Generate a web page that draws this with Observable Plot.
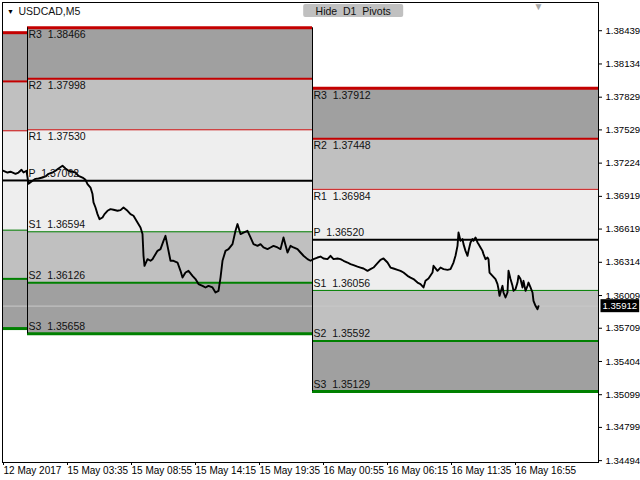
<!DOCTYPE html>
<html>
<head>
<meta charset="utf-8">
<script src="https://cdn.jsdelivr.net/npm/d3@7"></script>
<script src="https://cdn.jsdelivr.net/npm/@observablehq/plot@0.6"></script>
<style>
  html, body { margin: 0; padding: 0; background: #fff; }
  #chart svg { display: block; }
</style>
</head>
<body>
<div id="chart"></div>
<script>
// USDCAD M5 with daily pivot bands (MT4 style)

const symbol = "USDCAD,M5";
const buttonLabel = "Hide  D1  Pivots";

// day ranges in bar index (one M5 bar per pixel)
const dayStart = [0, 25, 310];
const dayEnd = [25, 310, 596];
const dayLabelled = [false, true, true];

const levelNames = ["R3", "R2", "R1", "P", "S1", "S2", "S3"];
const levelsFri = [1.38421, 1.37974, 1.37521, 1.37065, 1.36609, 1.36162, 1.35706];
const levelsMon = [1.38466, 1.37998, 1.37530, 1.37062, 1.36594, 1.36126, 1.35658];
const levelsTue = [1.37912, 1.37448, 1.36984, 1.36520, 1.36056, 1.35592, 1.35129];

const priceTicks = [1.38439, 1.38134, 1.37829, 1.37529, 1.37224, 1.36919, 1.36619,
  1.36314, 1.36009, 1.35709, 1.35404, 1.35099, 1.34799, 1.34494];
const timeTicks = [1, 65, 129, 193, 257, 321, 385, 449, 513];
const timeLabels = ["12 May 2017", "15 May 03:35", "15 May 08:55", "15 May 14:15",
  "15 May 19:35", "16 May 00:55", "16 May 06:15", "16 May 11:35", "16 May 16:55"];

const bars = [1, 5, 8, 13, 16, 19, 21, 24, 26, 30, 33, 36, 40, 43, 46, 50, 53, 56, 60, 63,
  66, 70, 73, 76, 80, 83, 85, 88, 90, 91, 93, 95, 97, 100, 102, 105, 108, 111, 115, 118,
  121, 125, 128, 131, 135, 138, 140, 141, 142, 145, 148, 150, 151, 155, 158, 161, 163, 165, 168, 171,
  175, 178, 180, 183, 186, 190, 193, 196, 200, 203, 206, 210, 213, 216, 218, 220, 223, 226, 230, 233,
  235, 238, 241, 245, 248, 251, 255, 258, 261, 265, 268, 271, 275, 278, 281, 285, 288, 291, 295, 298,
  301, 305, 308, 311, 315, 318, 321, 325, 328, 331, 335, 338, 341, 345, 348, 351, 355, 358, 361, 365,
  368, 371, 375, 378, 381, 385, 388, 391, 395, 398, 401, 405, 408, 411, 415, 418, 421, 423, 426, 430,
  431, 435, 438, 441, 445, 448, 451, 453, 455, 456, 458, 460, 461, 463, 465, 466, 468, 470, 471, 473,
  475, 476, 478, 480, 481, 483, 485, 486, 487, 490, 493, 495, 496, 497, 500, 501, 503, 505, 506, 508,
  510, 511, 513, 515, 516, 518, 520, 521, 523, 525, 526, 528, 530, 531, 533, 535, 536];
const closes = [1.37154, 1.37138, 1.37145, 1.37126, 1.37138, 1.37163, 1.37138, 1.37154, 1.37034, 1.37062,
  1.37080, 1.37083, 1.37092, 1.37102, 1.37126, 1.37138, 1.37154, 1.37175, 1.37200, 1.37175,
  1.37154, 1.37145, 1.37138, 1.37108, 1.37092, 1.37071, 1.37032, 1.37000, 1.36940, 1.36863,
  1.36817, 1.36756, 1.36710, 1.36725, 1.36756, 1.36787, 1.36802, 1.36796, 1.36787, 1.36793,
  1.36817, 1.36787, 1.36756, 1.36741, 1.36679, 1.36633, 1.36573, 1.36374, 1.36282, 1.36343,
  1.36328, 1.36343, 1.36358, 1.36419, 1.36435, 1.36511, 1.36557, 1.36465, 1.36328, 1.36328,
  1.36312, 1.36236, 1.36174, 1.36220, 1.36236, 1.36190, 1.36160, 1.36114, 1.36098, 1.36083,
  1.36098, 1.36083, 1.36037, 1.36052, 1.36174, 1.36328, 1.36419, 1.36435, 1.36481, 1.36603,
  1.36665, 1.36573, 1.36587, 1.36603, 1.36542, 1.36481, 1.36465, 1.36481, 1.36450, 1.36435,
  1.36450, 1.36465, 1.36450, 1.36435, 1.36542, 1.36404, 1.36465, 1.36450, 1.36435, 1.36404,
  1.36374, 1.36343, 1.36328, 1.36343, 1.36358, 1.36367, 1.36349, 1.36343, 1.36374, 1.36343,
  1.36349, 1.36343, 1.36328, 1.36312, 1.36297, 1.36288, 1.36275, 1.36266, 1.36257, 1.36236,
  1.36251, 1.36266, 1.36306, 1.36337, 1.36349, 1.36312, 1.36266, 1.36257, 1.36245, 1.36236,
  1.36220, 1.36190, 1.36174, 1.36160, 1.36128, 1.36114, 1.36083, 1.36144, 1.36165, 1.36220,
  1.36282, 1.36236, 1.36266, 1.36251, 1.36245, 1.36251, 1.36312, 1.36374, 1.36465, 1.36587,
  1.36511, 1.36527, 1.36481, 1.36419, 1.36374, 1.36419, 1.36496, 1.36527, 1.36511, 1.36542,
  1.36496, 1.36481, 1.36450, 1.36419, 1.36389, 1.36343, 1.36358, 1.36343, 1.36220, 1.36190,
  1.36160, 1.36114, 1.36068, 1.36006, 1.36098, 1.36037, 1.35991, 1.36037, 1.36236, 1.36160,
  1.36098, 1.36052, 1.36068, 1.36128, 1.36190, 1.36160, 1.36083, 1.36144, 1.36052, 1.36098,
  1.36128, 1.36083, 1.36037, 1.35960, 1.35915, 1.35884, 1.35912];
const lastClose = 1.35912;

// styles
const bandFill = ["#a0a0a0", "#c0c0c0", "#eeeeee", "#eeeeee", "#c0c0c0", "#a0a0a0"];
const levelWidth = [3, 2, 1, 2, 1, 2, 3];
const levelColor = i => (i < 3 ? "#c40000" : i === 3 ? "#000" : "#008000");

const dayLevels = [levelsFri, levelsMon, levelsTue];
const bands = [];
const lines = [];
const edges = [];
dayLevels.forEach((lv, d) => {
  for (let i = 0; i < 6; i++) {
    bands.push({ x1: dayStart[d], x2: dayEnd[d], y1: lv[i], y2: lv[i + 1], band: i });
  }
  lv.forEach((v, i) => lines.push({ x1: dayStart[d], x2: dayEnd[d], y: v, level: i, day: d }));
  if (d > 0) {
    edges.push({ x: dayStart[d], y1: lv[0], y2: lv[6] });
    edges.push({ x: dayEnd[d], y1: lv[0], y2: lv[6] });
  }
});
const labelled = lines.filter(l => dayLabelled[l.day]);
const price = bars.map((b, i) => ({ bar: b, close: closes[i] }));
const lastBar = bars[bars.length - 1];
const labelText = d => `${levelNames[d.level]}  ${d.y.toFixed(5)}`;

const plot = Plot.plot({
  width: 640,
  height: 480,
  marginLeft: 2,
  marginTop: 2,
  marginRight: 42,
  marginBottom: 18,
  style: { fontFamily: "'Liberation Sans', Arial, sans-serif", fontSize: "10px", background: "#fff", color: "#000" },
  x: { domain: [0, 596], axis: null },
  y: { domain: [1.34477, 1.38698], axis: null },
  marks: [
    Plot.rect(bands, { x1: "x1", x2: "x2", y1: "y1", y2: "y2", fill: d => bandFill[d.band], inset: 0 }),
    Plot.ruleY([lastClose], { stroke: "#c8c8c8" }),
    Plot.ruleY(lines, { x1: "x1", x2: "x2", y: "y", stroke: d => levelColor(d.level), strokeWidth: d => levelWidth[d.level] }),
    Plot.ruleX(edges, { x: "x", y1: "y1", y2: "y2", stroke: "#000" }),
    Plot.line(price, { x: "bar", y: "close", stroke: "#000", strokeWidth: 1.9 }),
    Plot.text(labelled.filter(d => d.level < 3), { x: "x1", y: "y", text: labelText, textAnchor: "start", dx: 1, dy: 7, fill: "#111", fontSize: 10.5 }),
    Plot.text(labelled.filter(d => d.level >= 3), { x: "x1", y: "y", text: labelText, textAnchor: "start", dx: 1, dy: -7, fill: "#111", fontSize: 10.5 }),
    Plot.axisY(priceTicks, { anchor: "right", tickSize: 3, tickPadding: 4, tickFormat: d => d.toFixed(5), fontSize: 9.6, label: null }),
    Plot.axisX(timeTicks, { anchor: "bottom", tickSize: 3, tickPadding: 1, tickFormat: d => timeLabels[timeTicks.indexOf(d)], textAnchor: "start", fontSize: 10, label: null }),
    Plot.frame({ stroke: "#000" }),
    Plot.text([symbol], { frameAnchor: "top-left", dx: 16, dy: 9, textAnchor: "start", lineAnchor: "middle", fill: "#111", fontSize: 10.5 }),
    Plot.text(["▼"], { frameAnchor: "top-left", dx: 8, dy: 9, textAnchor: "middle", lineAnchor: "middle", fill: "#000", fontSize: 7 }),
    Plot.text([lastBar], { x: d => d, text: () => "▼", frameAnchor: "top", dy: 4, lineAnchor: "middle", fill: "#a8a8a8", fontSize: 10 }),
    Plot.text([buttonLabel], { frameAnchor: "top", dx: 52.7, dy: 8.7, textAnchor: "middle", lineAnchor: "middle", fill: "#111", fontSize: 10.5 }),
    Plot.text([lastClose], { y: d => d, text: d => d.toFixed(5), frameAnchor: "right", dx: 4, textAnchor: "start", lineAnchor: "middle", fill: "#fff", fontSize: 9.6 })
  ]
});

// put a filled box behind the text element showing a given string
function putBehind(svg, content, fill, w, h, rx) {
  for (const t of svg.querySelectorAll("text")) {
    if (t.textContent !== content) continue;
    const b = t.getBBox();
    const cx = b.x + b.width / 2, cy = b.y + b.height / 2;
    const bw = w ?? b.width + 4, bh = h ?? b.height + 1;
    const r = document.createElementNS("http://www.w3.org/2000/svg", "rect");
    if (t.getAttribute("transform")) r.setAttribute("transform", t.getAttribute("transform"));
    r.setAttribute("x", cx - bw / 2);
    r.setAttribute("y", cy - bh / 2);
    r.setAttribute("width", bw);
    r.setAttribute("height", bh);
    r.setAttribute("rx", rx);
    r.setAttribute("fill", fill);
    t.parentNode.insertBefore(r, t);
  }
}

document.getElementById("chart").appendChild(plot);
putBehind(plot, buttonLabel, "#c0c0c0", 100, 13, 2);
putBehind(plot, lastClose.toFixed(5), "#000", null, 13, 0);
</script>
</body>
</html>
